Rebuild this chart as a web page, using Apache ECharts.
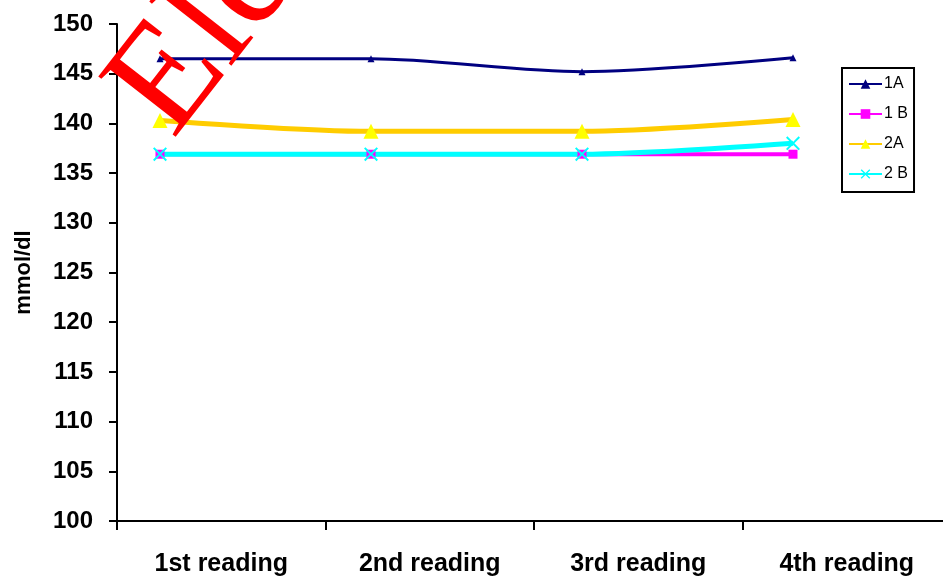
<!DOCTYPE html>
<html>
<head>
<meta charset="utf-8">
<script src="https://cdn.jsdelivr.net/npm/echarts@6/dist/echarts.min.js"></script>
<style>html,body{margin:0;padding:0;background:#fff}#c{width:943px;height:579px}</style>
</head>
<body>
<div id="c"></div>
<script>
var categories = ['1st reading', '2nd reading', '3rd reading', '4th reading'];
var yTicks = [100, 105, 110, 115, 120, 125, 130, 135, 140, 145, 150];
var s1A = [146.5, 146.5, 145.2, 146.6];
var s1B = [136.9, 136.9, 136.9, 136.9];
var s2A = [140.3, 139.2, 139.2, 140.4];
var s2B = [136.9, 136.9, 136.9, 138.0];
var seriesNames = ['1A', '1 B', '2A', '2 B'];

var font = '"Liberation Sans", Arial, sans-serif';
var xMark = 'path://M0,1 L1,0 L5,4 L9,0 L10,1 L6,5 L10,9 L9,10 L5,6 L1,10 L0,9 L4,5 Z';

var chart = echarts.init(document.getElementById('c'), null, {renderer: 'canvas'});
chart.setOption({
  animation: false,
  backgroundColor: '#fff',
  grid: [
    {left: 117, width: 834, top: 24, bottom: 58, containLabel: false, outerBoundsMode: 'none'},
    {left: 160, right: 150, top: 24, bottom: 58, containLabel: false, outerBoundsMode: 'none'}
  ],
  xAxis: [
    {
      type: 'category', gridIndex: 0, data: categories, boundaryGap: true,
      axisLine: {lineStyle: {color: '#000', width: 2}},
      axisTick: {show: true, length: 9, lineStyle: {color: '#000', width: 2}},
      axisLabel: {margin: 31, color: '#000', fontSize: 25, fontWeight: 'bold', fontFamily: font},
      splitLine: {show: false}
    },
    {
      type: 'category', gridIndex: 1, data: categories, boundaryGap: false, show: false
    }
  ],
  yAxis: [
    {
      type: 'value', gridIndex: 0, min: yTicks[0], max: yTicks[yTicks.length - 1], interval: 5,
      name: 'mmol/dl', nameLocation: 'middle', nameGap: 82,
      nameTextStyle: {color: '#000', fontSize: 22, fontWeight: 'bold', fontFamily: font},
      axisLine: {show: true, lineStyle: {color: '#000', width: 2}},
      axisTick: {show: true, length: 8, lineStyle: {color: '#000', width: 2}},
      axisLabel: {margin: 24, color: '#000', fontSize: 24, fontWeight: 'bold', fontFamily: font},
      splitLine: {show: false}
    },
    {
      type: 'value', gridIndex: 1, min: yTicks[0], max: yTicks[yTicks.length - 1], interval: 5, show: false,
      splitLine: {show: false}
    }
  ],
  legend: {
    orient: 'vertical', left: 842, top: 68,
    padding: [8, 6, 10, 6],
    itemWidth: 33, itemHeight: 12, itemGap: 14,
    borderColor: '#000', borderWidth: 2,
    textStyle: {color: '#000', fontSize: 16, fontFamily: font, padding: [0, 0, 0, -3]},
    data: seriesNames
  },
  series: [
    {
      name: seriesNames[0], type: 'line', xAxisIndex: 1, yAxisIndex: 1, data: s1A, smooth: 0.3,
      symbol: 'triangle', symbolSize: 7,
      lineStyle: {color: '#000080', width: 3}, itemStyle: {color: '#000080'}
    },
    {
      name: seriesNames[1], type: 'line', xAxisIndex: 1, yAxisIndex: 1, data: s1B, smooth: 0.3,
      symbol: 'rect', symbolSize: 9,
      lineStyle: {color: '#FF00FF', width: 4}, itemStyle: {color: '#FF00FF'}
    },
    {
      name: seriesNames[2], type: 'line', xAxisIndex: 1, yAxisIndex: 1, data: s2A, smooth: 0.3,
      symbol: 'triangle', symbolSize: 15,
      lineStyle: {color: '#FFCC00', width: 5}, itemStyle: {color: '#FFFF00'}
    },
    {
      name: seriesNames[3], type: 'line', xAxisIndex: 1, yAxisIndex: 1, data: s2B, smooth: 0.3,
      symbol: xMark, symbolSize: 14,
      lineStyle: {color: '#00FFFF', width: 5}, itemStyle: {color: '#00FFFF'}
    }
  ],
  graphic: [
    {
      type: 'text', z: 100, x: 142, y: 116, rotation: 52 * Math.PI / 180,
      style: {text: 'Ele', fill: '#FF0000', font: '150px "Liberation Serif", "Times New Roman", serif', align: 'left', verticalAlign: 'middle'}
    }
  ]
});
</script>
</body>
</html>
